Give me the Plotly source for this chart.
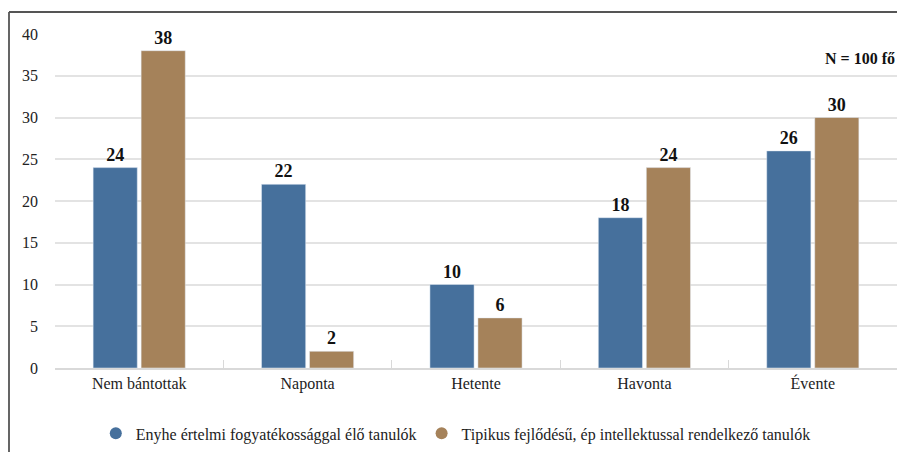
import plotly.graph_objects as go

categories = ["Nem bántottak", "Naponta", "Hetente", "Havonta", "Évente"]
series1_name = "Enyhe értelmi fogyatékossággal élő tanulók"
series2_name = "Tipikus fejlődésű, ép intellektussal rendelkező tanulók"
series1 = [24, 22, 10, 18, 26]
series2 = [38, 2, 6, 24, 30]
y_ticks = [0, 5, 10, 15, 20, 25, 30, 35, 40]

c1 = "#46709c"
c2 = "#a5825a"
FONT = "Liberation Serif"

fig = go.Figure()
fig.add_trace(go.Bar(x=categories, y=series1, marker_color=c1, name=series1_name,
                     text=series1, textposition="outside", cliponaxis=False,
                     textfont=dict(family=FONT, size=18, color="#111"),
                     texttemplate="<b>%{text}</b>", showlegend=False))
fig.add_trace(go.Bar(x=categories, y=series2, marker_color=c2, name=series2_name,
                     text=series2, textposition="outside", cliponaxis=False,
                     textfont=dict(family=FONT, size=18, color="#111"),
                     texttemplate="<b>%{text}</b>", showlegend=False))
# legend entries with circle markers
fig.add_trace(go.Scatter(x=[None], y=[None], mode="markers", name=series1_name,
                         marker=dict(symbol="circle", size=16, color=c1)))
fig.add_trace(go.Scatter(x=[None], y=[None], mode="markers", name=series2_name,
                         marker=dict(symbol="circle", size=16, color=c2)))

# frame (clipped on right/bottom in reference)
fl = (1 - 47) / 842
ft = (360 - 4) / 334
fig.add_shape(type="line", xref="paper", yref="paper", x0=fl, x1=1.02, y0=ft, y1=ft,
              line=dict(color="#555", width=1.8))
fig.add_shape(type="line", xref="paper", yref="paper", x0=fl, x1=fl, y0=ft, y1=-0.3,
              line=dict(color="#555", width=1.8))

fig.add_annotation(text="<b>N = 100 fő</b>", xref="paper", yref="y", x=1.0, y=37.1,
                   xanchor="right", yanchor="middle", showarrow=False,
                   font=dict(family=FONT, size=16, color="#111"))

fig.update_layout(
    width=897, height=444,
    margin=dict(l=47, r=8, t=26, b=84, autoexpand=False),
    paper_bgcolor="white", plot_bgcolor="white",
    barmode="group", bargap=0.43, bargroupgap=0.08,
    font=dict(family=FONT, size=16, color="#222"),
    legend=dict(orientation="h", x=0.476, xanchor="center", y=-0.145, yanchor="top",
                font=dict(family=FONT, size=16, color="#222"), itemsizing="constant"),
    xaxis=dict(showline=True, linecolor="#d9d9d9", linewidth=1.5, ticks="inside",
               tickson="boundaries", ticklen=8, tickcolor="#d9d9d9", automargin=False,
               tickfont=dict(family=FONT, size=16, color="#222"), showgrid=False),
    yaxis=dict(range=[0, 40], tickvals=y_ticks, showgrid=True, gridcolor="#e3e3e3",
               gridwidth=1.5, zeroline=False, ticklabelstandoff=16, automargin=False,
               tickfont=dict(family=FONT, size=16, color="#222")),
)

fig.write_html("out.html")
